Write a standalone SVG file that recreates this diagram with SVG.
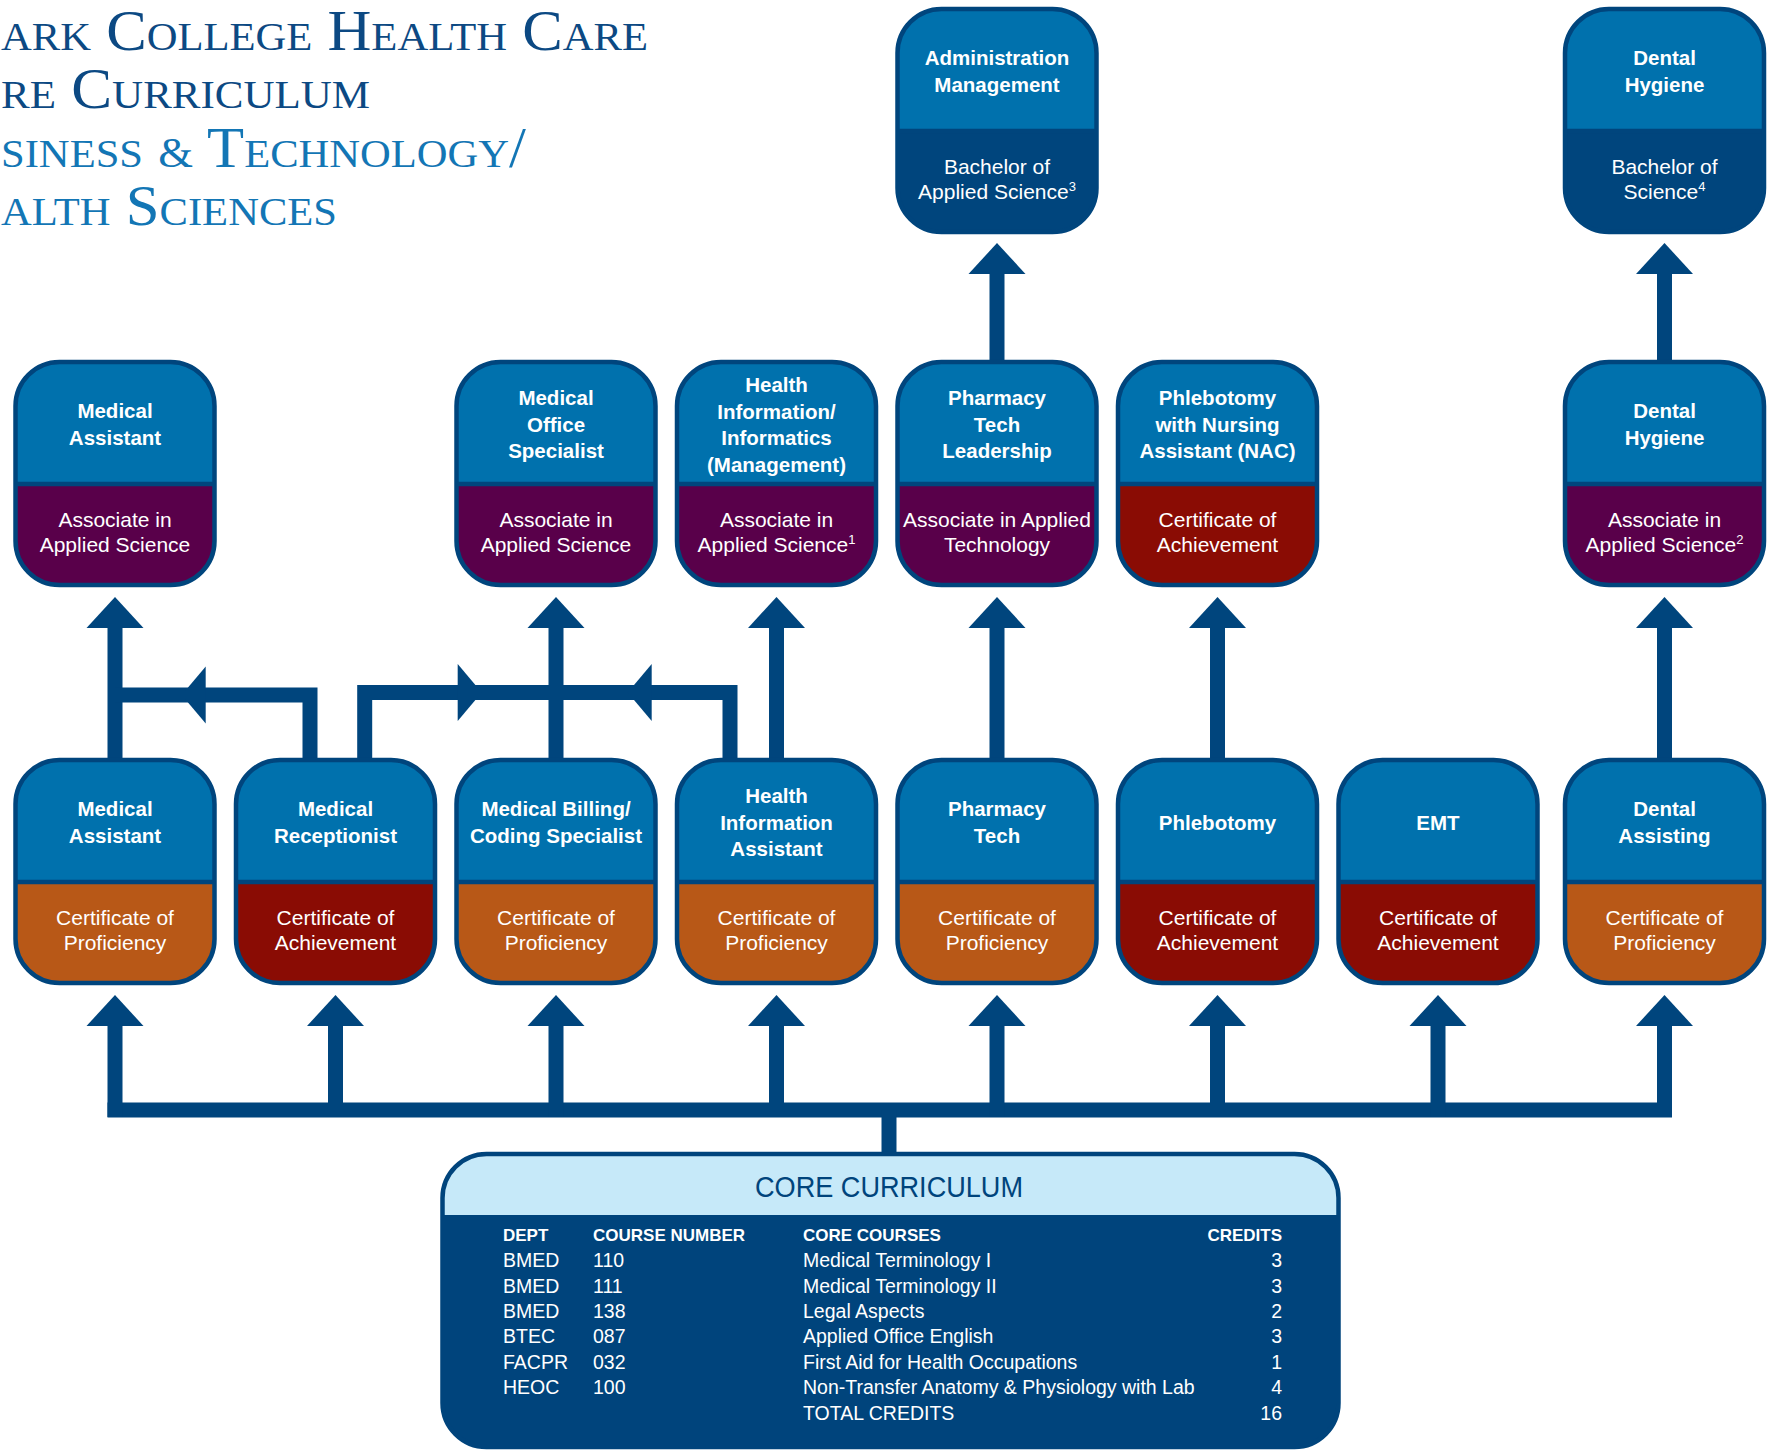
<svg xmlns="http://www.w3.org/2000/svg" xmlns:xlink="http://www.w3.org/1999/xlink" width="1774" height="1450" viewBox="0 0 1774 1450">
<style>
.t1{font-family:"Liberation Serif",serif;font-variant:small-caps;font-size:57px;fill:#0c4983}
.t2{font-family:"Liberation Serif",serif;font-variant:small-caps;font-size:57px;fill:#1376b5}
.amp{font-size:42px}
.h{font-family:"Liberation Sans",Arial,sans-serif;font-weight:bold;font-size:20.5px;fill:#fff;text-anchor:middle}
.b{font-family:"Liberation Sans",Arial,sans-serif;font-size:21px;fill:#fff;text-anchor:middle}
.sup{font-size:13px}
.frame{fill:none;stroke:#00457d;stroke-width:4.5}
.top{fill:#0071ad}
.or{fill:#b85817}
.mr{fill:#8a0c04}
.pu{fill:#59004a}
.nv{fill:#00457d}
.ln{fill:none;stroke:#00457d;stroke-width:15;stroke-linejoin:miter}
.hd{fill:#00457d}
.th{font-family:"Liberation Sans",Arial,sans-serif;font-weight:bold;font-size:17px;fill:#fff}
.tr{font-family:"Liberation Sans",Arial,sans-serif;font-size:19.5px;fill:#fff}
</style>
<defs>
<rect id="nb" x="2" y="2" width="199" height="223" rx="44"/>
<path id="nt" d="M2,124 V46 A44,44 0 0 1 46,2 H157 A44,44 0 0 1 201,46 V124 Z"/>
<g id="nf" class="frame"><line x1="2" y1="124" x2="201" y2="124"/><rect x="2" y="2" width="199" height="223" rx="44"/></g>
<path id="up" d="M0,0 L28.5,31 L-28.5,31 Z"/>
<path id="lf" d="M0,0 L24,-28.5 L24,28.5 Z"/>
<path id="rt" d="M0,0 L-24,-28.5 L-24,28.5 Z"/>
</defs>

<g id="title">
<text class="t1" x="1" y="50" textLength="647" lengthAdjust="spacingAndGlyphs">ark College Health Care</text>
<text class="t1" x="1" y="108" textLength="369" lengthAdjust="spacingAndGlyphs">re Curriculum</text>
<text class="t2" x="1" y="167" textLength="525" lengthAdjust="spacingAndGlyphs">siness <tspan class="amp">&amp;</tspan> Technology/</text>
<text class="t2" x="1" y="225" textLength="336" lengthAdjust="spacingAndGlyphs">alth Sciences</text>
</g>

<g id="connectors">
<line class="ln" x1="107.5" y1="1110" x2="1672" y2="1110"/>
<line class="ln" x1="889" y1="1110" x2="889" y2="1156"/>
<line class="ln" x1="115" y1="1117" x2="115" y2="1024"/>
<line class="ln" x1="335.5" y1="1117" x2="335.5" y2="1024"/>
<line class="ln" x1="556" y1="1117" x2="556" y2="1024"/>
<line class="ln" x1="776.5" y1="1117" x2="776.5" y2="1024"/>
<line class="ln" x1="997" y1="1117" x2="997" y2="1024"/>
<line class="ln" x1="1217.5" y1="1117" x2="1217.5" y2="1024"/>
<line class="ln" x1="1438" y1="1117" x2="1438" y2="1024"/>
<line class="ln" x1="1664.5" y1="1117" x2="1664.5" y2="1024"/>
<use href="#up" class="hd" x="115" y="995"/>
<use href="#up" class="hd" x="335.5" y="995"/>
<use href="#up" class="hd" x="556" y="995"/>
<use href="#up" class="hd" x="776.5" y="995"/>
<use href="#up" class="hd" x="997" y="995"/>
<use href="#up" class="hd" x="1217.5" y="995"/>
<use href="#up" class="hd" x="1438" y="995"/>
<use href="#up" class="hd" x="1664.5" y="995"/>

<line class="ln" x1="115" y1="762" x2="115" y2="625"/>
<line class="ln" x1="556" y1="762" x2="556" y2="625"/>
<line class="ln" x1="776.5" y1="762" x2="776.5" y2="625"/>
<line class="ln" x1="997" y1="762" x2="997" y2="625"/>
<line class="ln" x1="1217.5" y1="762" x2="1217.5" y2="625"/>
<line class="ln" x1="1664.5" y1="762" x2="1664.5" y2="625"/>
<use href="#up" class="hd" x="115" y="597"/>
<use href="#up" class="hd" x="556" y="597"/>
<use href="#up" class="hd" x="776.5" y="597"/>
<use href="#up" class="hd" x="997" y="597"/>
<use href="#up" class="hd" x="1217.5" y="597"/>
<use href="#up" class="hd" x="1664.5" y="597"/>

<path class="ln" d="M310,762 V695 H115"/>
<use href="#lf" class="hd" x="181.7" y="695"/>
<path class="ln" d="M364.7,762 V692.5 H730 V762"/>
<use href="#rt" class="hd" x="481.7" y="692.5"/>
<use href="#lf" class="hd" x="627.7" y="692.5"/>

<line class="ln" x1="997" y1="364" x2="997" y2="272"/>
<line class="ln" x1="1664.5" y1="364" x2="1664.5" y2="272"/>
<use href="#up" class="hd" x="997" y="243"/>
<use href="#up" class="hd" x="1664.5" y="243"/>
</g>

<!-- Top row -->
<g id="admin-bas" transform="translate(895.5,7)">
<use href="#nb" class="nv"/><use href="#nt" class="top"/><use href="#nf"/>
<text class="h" x="101.5" y="58">Administration</text>
<text class="h" x="101.5" y="85">Management</text>
<text class="b" x="101.5" y="166.5">Bachelor of</text>
<text class="b" x="101.5" y="192">Applied Science<tspan class="sup" dy="-8">3</tspan></text>
</g>
<g id="dental-bs" transform="translate(1563,7)">
<use href="#nb" class="nv"/><use href="#nt" class="top"/><use href="#nf"/>
<text class="h" x="101.5" y="58">Dental</text>
<text class="h" x="101.5" y="85">Hygiene</text>
<text class="b" x="101.5" y="166.5">Bachelor of</text>
<text class="b" x="101.5" y="192">Science<tspan class="sup" dy="-8">4</tspan></text>
</g>

<!-- Middle row -->
<g id="medasst-aas" transform="translate(13.5,360)">
<use href="#nb" class="pu"/><use href="#nt" class="top"/><use href="#nf"/>
<text class="h" x="101.5" y="58">Medical</text>
<text class="h" x="101.5" y="85">Assistant</text>
<text class="b" x="101.5" y="166.5">Associate in</text>
<text class="b" x="101.5" y="192">Applied Science</text>
</g>
<g id="medoffice-aas" transform="translate(454.5,360)">
<use href="#nb" class="pu"/><use href="#nt" class="top"/><use href="#nf"/>
<text class="h" x="101.5" y="45">Medical</text>
<text class="h" x="101.5" y="71.5">Office</text>
<text class="h" x="101.5" y="98">Specialist</text>
<text class="b" x="101.5" y="166.5">Associate in</text>
<text class="b" x="101.5" y="192">Applied Science</text>
</g>
<g id="hiim-aas" transform="translate(675,360)">
<use href="#nb" class="pu"/><use href="#nt" class="top"/><use href="#nf"/>
<text class="h" x="101.5" y="32">Health</text>
<text class="h" x="101.5" y="58.5">Information/</text>
<text class="h" x="101.5" y="85">Informatics</text>
<text class="h" x="101.5" y="111.5">(Management)</text>
<text class="b" x="101.5" y="166.5">Associate in</text>
<text class="b" x="101.5" y="192">Applied Science<tspan class="sup" dy="-8">1</tspan></text>
</g>
<g id="pharmlead-aat" transform="translate(895.5,360)">
<use href="#nb" class="pu"/><use href="#nt" class="top"/><use href="#nf"/>
<text class="h" x="101.5" y="45">Pharmacy</text>
<text class="h" x="101.5" y="71.5">Tech</text>
<text class="h" x="101.5" y="98">Leadership</text>
<text class="b" x="101.5" y="166.5">Associate in Applied</text>
<text class="b" x="101.5" y="192">Technology</text>
</g>
<g id="phleb-nac" transform="translate(1116,360)">
<use href="#nb" class="mr"/><use href="#nt" class="top"/><use href="#nf"/>
<text class="h" x="101.5" y="45">Phlebotomy</text>
<text class="h" x="101.5" y="71.5">with Nursing</text>
<text class="h" x="101.5" y="98">Assistant (NAC)</text>
<text class="b" x="101.5" y="166.5">Certificate of</text>
<text class="b" x="101.5" y="192">Achievement</text>
</g>
<g id="dental-aas" transform="translate(1563,360)">
<use href="#nb" class="pu"/><use href="#nt" class="top"/><use href="#nf"/>
<text class="h" x="101.5" y="58">Dental</text>
<text class="h" x="101.5" y="85">Hygiene</text>
<text class="b" x="101.5" y="166.5">Associate in</text>
<text class="b" x="101.5" y="192">Applied Science<tspan class="sup" dy="-8">2</tspan></text>
</g>

<!-- Bottom row -->
<g id="medasst-cp" transform="translate(13.5,758)">
<use href="#nb" class="or"/><use href="#nt" class="top"/><use href="#nf"/>
<text class="h" x="101.5" y="58">Medical</text>
<text class="h" x="101.5" y="85">Assistant</text>
<text class="b" x="101.5" y="166.5">Certificate of</text>
<text class="b" x="101.5" y="192">Proficiency</text>
</g>
<g id="medrecep-ca" transform="translate(234,758)">
<use href="#nb" class="mr"/><use href="#nt" class="top"/><use href="#nf"/>
<text class="h" x="101.5" y="58">Medical</text>
<text class="h" x="101.5" y="85">Receptionist</text>
<text class="b" x="101.5" y="166.5">Certificate of</text>
<text class="b" x="101.5" y="192">Achievement</text>
</g>
<g id="billing-cp" transform="translate(454.5,758)">
<use href="#nb" class="or"/><use href="#nt" class="top"/><use href="#nf"/>
<text class="h" x="101.5" y="58">Medical Billing/</text>
<text class="h" x="101.5" y="85">Coding Specialist</text>
<text class="b" x="101.5" y="166.5">Certificate of</text>
<text class="b" x="101.5" y="192">Proficiency</text>
</g>
<g id="hia-cp" transform="translate(675,758)">
<use href="#nb" class="or"/><use href="#nt" class="top"/><use href="#nf"/>
<text class="h" x="101.5" y="45">Health</text>
<text class="h" x="101.5" y="71.5">Information</text>
<text class="h" x="101.5" y="98">Assistant</text>
<text class="b" x="101.5" y="166.5">Certificate of</text>
<text class="b" x="101.5" y="192">Proficiency</text>
</g>
<g id="pharm-cp" transform="translate(895.5,758)">
<use href="#nb" class="or"/><use href="#nt" class="top"/><use href="#nf"/>
<text class="h" x="101.5" y="58">Pharmacy</text>
<text class="h" x="101.5" y="85">Tech</text>
<text class="b" x="101.5" y="166.5">Certificate of</text>
<text class="b" x="101.5" y="192">Proficiency</text>
</g>
<g id="phleb-ca" transform="translate(1116,758)">
<use href="#nb" class="mr"/><use href="#nt" class="top"/><use href="#nf"/>
<text class="h" x="101.5" y="71.5">Phlebotomy</text>
<text class="b" x="101.5" y="166.5">Certificate of</text>
<text class="b" x="101.5" y="192">Achievement</text>
</g>
<g id="emt-ca" transform="translate(1336.5,758)">
<use href="#nb" class="mr"/><use href="#nt" class="top"/><use href="#nf"/>
<text class="h" x="101.5" y="71.5">EMT</text>
<text class="b" x="101.5" y="166.5">Certificate of</text>
<text class="b" x="101.5" y="192">Achievement</text>
</g>
<g id="dentalasst-cp" transform="translate(1563,758)">
<use href="#nb" class="or"/><use href="#nt" class="top"/><use href="#nf"/>
<text class="h" x="101.5" y="58">Dental</text>
<text class="h" x="101.5" y="85">Assisting</text>
<text class="b" x="101.5" y="166.5">Certificate of</text>
<text class="b" x="101.5" y="192">Proficiency</text>
</g>

<!-- Core curriculum -->
<g id="core">
<rect x="442.5" y="1154" width="896" height="293" rx="44" fill="#00447c"/>
<path d="M442.5,1215 V1198 A44,44 0 0 1 486.5,1154 H1294.5 A44,44 0 0 1 1338.5,1198 V1215 Z" fill="#c6e9f9"/>
<rect x="442.5" y="1154" width="896" height="293" rx="44" fill="none" stroke="#00447c" stroke-width="4.5"/>
<text x="889" y="1197" text-anchor="middle" font-family="Liberation Sans, Arial, sans-serif" font-size="29" fill="#00447c" textLength="268" lengthAdjust="spacingAndGlyphs">CORE CURRICULUM</text>
<text class="th" x="503" y="1241">DEPT</text>
<text class="th" x="593" y="1241">COURSE NUMBER</text>
<text class="th" x="803" y="1241">CORE COURSES</text>
<text class="th" x="1282" y="1241" text-anchor="end">CREDITS</text>
<g class="tr">
<text x="503" y="1267">BMED</text><text x="593" y="1267">110</text><text x="803" y="1267">Medical Terminology I</text><text x="1282" y="1267" text-anchor="end">3</text>
<text x="503" y="1292.5">BMED</text><text x="593" y="1292.5">111</text><text x="803" y="1292.5">Medical Terminology II</text><text x="1282" y="1292.5" text-anchor="end">3</text>
<text x="503" y="1318">BMED</text><text x="593" y="1318">138</text><text x="803" y="1318">Legal Aspects</text><text x="1282" y="1318" text-anchor="end">2</text>
<text x="503" y="1343">BTEC</text><text x="593" y="1343">087</text><text x="803" y="1343">Applied Office English</text><text x="1282" y="1343" text-anchor="end">3</text>
<text x="503" y="1368.5">FACPR</text><text x="593" y="1368.5">032</text><text x="803" y="1368.5">First Aid for Health Occupations</text><text x="1282" y="1368.5" text-anchor="end">1</text>
<text x="503" y="1394">HEOC</text><text x="593" y="1394">100</text><text x="803" y="1394">Non-Transfer Anatomy &amp; Physiology with Lab</text><text x="1282" y="1394" text-anchor="end">4</text>
<text x="803" y="1419.5">TOTAL CREDITS</text><text x="1282" y="1419.5" text-anchor="end">16</text>
</g>
</g>
</svg>
